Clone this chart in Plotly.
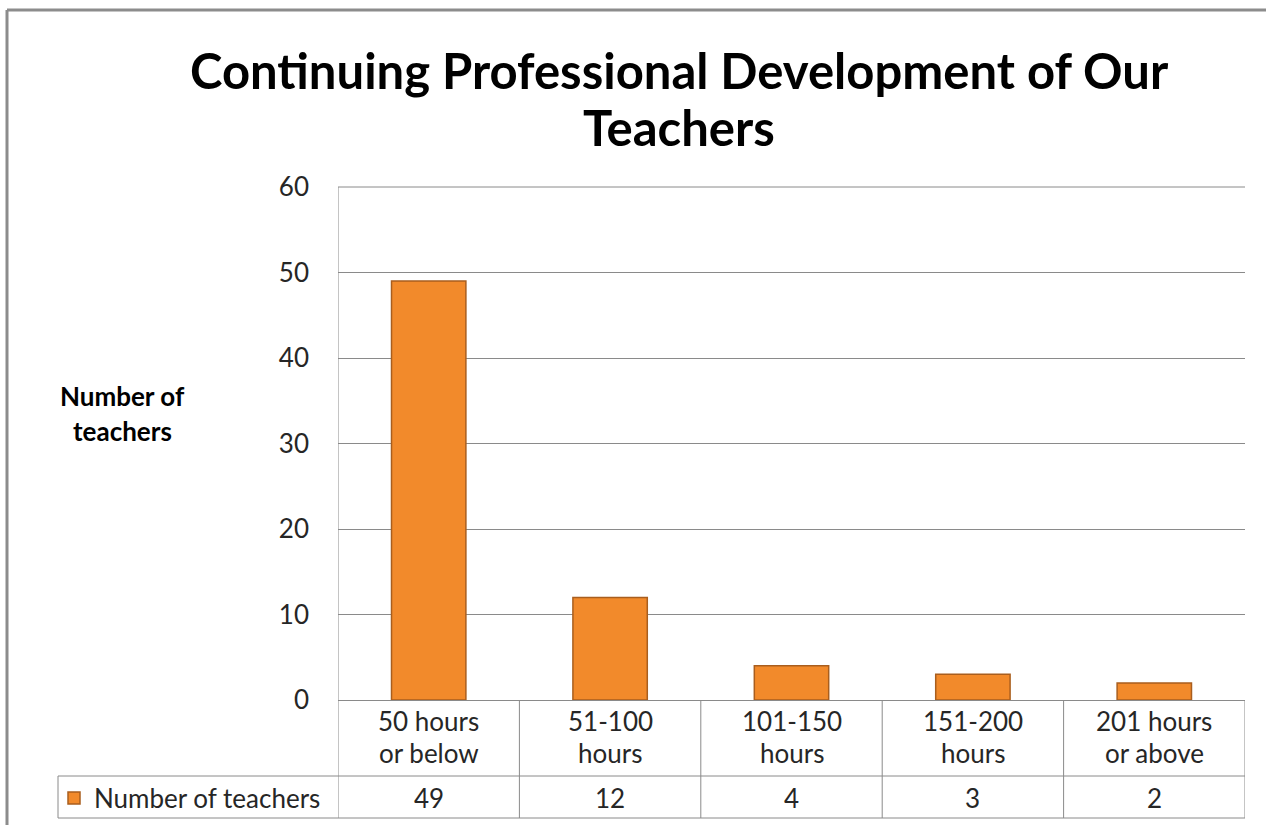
import plotly.graph_objects as go

categories = ["50 hours\nor below", "51-100\nhours", "101-150\nhours", "151-200\nhours", "201 hours\nor above"]
values = [49, 12, 4, 3, 2]
series_name = "Number of teachers"
title_lines = ["Continuing Professional Development of Our", "Teachers"]
y_title_lines = ["Number of", "teachers"]
y_ticks = [0, 10, 20, 30, 40, 50, 60]

FONT = "Lato"
GRID = "#8a8a8a"
TXT = "#262626"
FS = 26

# plot area geometry in pixels
W, H = 1266, 825
L, R, T, B = 338, 21, 187, 125
PW, PH = W - L - R, H - T - B

def py(px):  # pixel y -> paper y
    return (H - B - px) / PH

def pxp(px):  # pixel x -> paper x
    return (px - L) / PW

x_idx = list(range(len(categories)))

fig = go.Figure()
fig.add_trace(go.Bar(
    x=x_idx, y=values, name=series_name,
    marker=dict(color="#F28A2B", line=dict(color="#A95E1E", width=1.5)),
    width=0.41, showlegend=True,
))

row_split = py(776)
row_bottom = py(818)
legend_left = pxp(58)

shapes = []
line = dict(color=GRID, width=1)
# table verticals
for i in range(len(categories) + 1):
    shapes.append(dict(type="line", xref="x", yref="paper", x0=i - 0.5, x1=i - 0.5,
                       y0=0 if i else 1, y1=row_bottom, line=line))
# top gridline of plot area
shapes.append(dict(type="line", xref="paper", yref="paper", x0=0, x1=1, y0=1, y1=1, line=line))
# table horizontals
shapes.append(dict(type="line", xref="paper", yref="paper", x0=legend_left, x1=1,
                   y0=row_split, y1=row_split, line=line))
shapes.append(dict(type="line", xref="paper", yref="paper", x0=legend_left, x1=1,
                   y0=row_bottom, y1=row_bottom, line=line))
shapes.append(dict(type="line", xref="paper", yref="paper", x0=legend_left, x1=legend_left,
                   y0=row_split, y1=row_bottom, line=line))
# outer chart border
border = dict(color="#8c8c8c", width=3)
shapes.append(dict(type="line", xref="paper", yref="paper", x0=pxp(7), x1=pxp(7),
                   y0=py(10), y1=py(900), line=border))
shapes.append(dict(type="line", xref="paper", yref="paper", x0=pxp(7), x1=pxp(1300),
                   y0=py(10), y1=py(10), line=border))

annotations = []
for k, t in enumerate(title_lines):
    annotations.append(dict(x=pxp(679), y=py(70 + 57 * k), xref="paper", yref="paper",
                            text=f"<b>{t}</b>", showarrow=False,
                            font=dict(family=FONT, size=49, color="#000"),
                            xanchor="center", yanchor="middle"))
for i, c in enumerate(categories):
    l1, l2 = c.split("\n")
    annotations.append(dict(x=i, y=py(721), xref="x", yref="paper", text=l1, showarrow=False,
                            font=dict(family=FONT, size=FS, color=TXT), yanchor="middle"))
    annotations.append(dict(x=i, y=py(753), xref="x", yref="paper", text=l2, showarrow=False,
                            font=dict(family=FONT, size=FS, color=TXT), yanchor="middle"))
for i, v in enumerate(values):
    annotations.append(dict(x=i, y=py(798), xref="x", yref="paper", text=str(v), showarrow=False,
                            font=dict(family=FONT, size=FS, color=TXT), yanchor="middle"))
for k, t in enumerate(y_title_lines):
    annotations.append(dict(x=pxp(122), y=py(396 + 35 * k), xref="paper", yref="paper", text=f"<b>{t}</b>",
                            showarrow=False, font=dict(family=FONT, size=26, color="#000"),
                            xanchor="center", yanchor="middle"))

fig.update_layout(
    width=W, height=H,
    margin=dict(l=L, r=R, t=T, b=B, autoexpand=False),
    paper_bgcolor="white", plot_bgcolor="white",
    xaxis=dict(range=[-0.5, len(categories) - 0.5], showticklabels=False, showgrid=False,
               zeroline=False, showline=True, linecolor=GRID, linewidth=1, fixedrange=True),
    yaxis=dict(range=[0, 60], tickvals=y_ticks, showgrid=True, gridcolor=GRID, gridwidth=1,
               zeroline=False, showline=False, ticks="", ticklabelstandoff=28,
               tickfont=dict(family=FONT, size=FS, color=TXT)),
    legend=dict(x=pxp(54), y=py(798), xanchor="left", yanchor="middle",
                font=dict(family=FONT, size=FS, color=TXT), bgcolor="rgba(0,0,0,0)",
                itemwidth=30),
    shapes=shapes, annotations=annotations,
    font=dict(family=FONT),
)

fig.write_html("out.html", config={"displayModeBar": False},
               post_script="document.body.style.margin='0';document.body.style.overflow='hidden';")
